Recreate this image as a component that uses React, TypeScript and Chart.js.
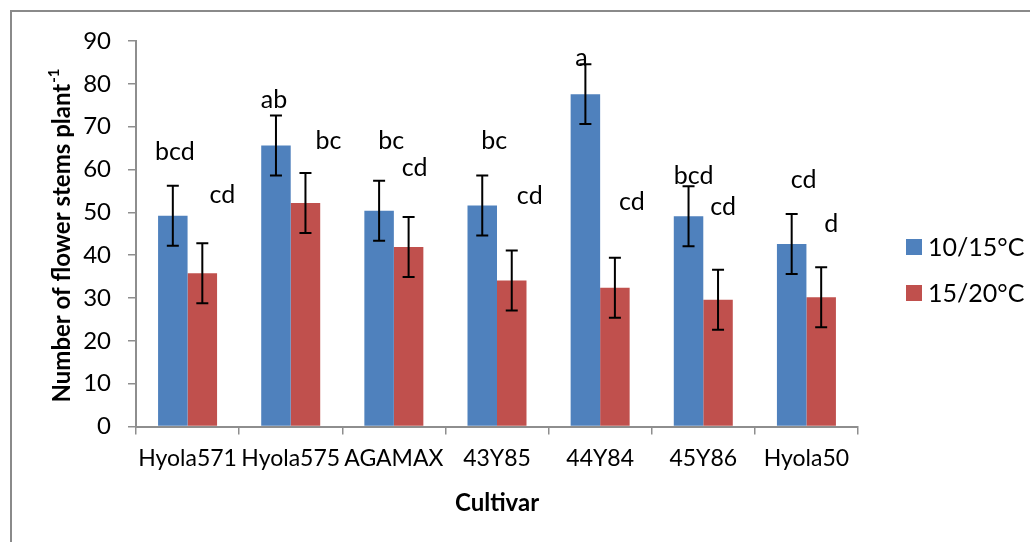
import { useEffect, useRef } from "react";
import { Chart, registerables } from "chart.js";

Chart.register(...registerables);

const categories = ["Hyola571", "Hyola575", "AGAMAX", "43Y85", "44Y84", "45Y86", "Hyola50"];
const seriesNames = ["10/15°C", "15/20°C"];
const values1015 = [49.2, 65.6, 50.4, 51.6, 77.6, 49.1, 42.6];
const values1520 = [35.8, 52.2, 41.9, 34.1, 32.4, 29.6, 30.2];
const errors1015 = [7, 7, 7, 7, 7, 7, 7];
const errors1520 = [7, 7, 7, 7, 7, 7, 7];
const letters1015 = ["bcd", "ab", "bc", "bc", "a", "bcd", "cd"];
const letters1520 = ["cd", "bc", "cd", "cd", "cd", "cd", "d"];
const yMin = 0;
const yMax = 90;
const yStep = 10;
const xTitle = "Cultivar";
const yTitleMain = "Number of flower stems plant";
const yTitleSup = "-1";

// placement of the significance letters (baseline in axis units, x shift in px from bar centre)
const letterBase1015 = [62.3, 74.3, 64.7, 64.7, 84.2, 56.7, 55.6];
const letterBase1520 = [52.2, 64.7, 58.5, 51.9, 50.5, 49.3, 45.4];
const letterDx1015 = [2, -2, 12, 12, -4, 5, 12];
const letterDx1520 = [20, 23, 6, 18, 17, 5, 10];

const FONT = "Lato, 'Open Sans', sans-serif";
const AXIS_GRAY = "#8e8e8e";

const overlayPlugin = {
  id: "overlay",
  beforeDraw(chart: any) {
    const ctx = chart.ctx;
    ctx.save();
    ctx.fillStyle = "#ffffff";
    ctx.fillRect(0, 0, chart.width, chart.height);
    ctx.strokeStyle = "#8a8a8a";
    ctx.lineWidth = 2;
    ctx.beginPath();
    ctx.moveTo(11, chart.height);
    ctx.lineTo(11, 11);
    ctx.lineTo(chart.width, 11);
    ctx.stroke();
    ctx.restore();
  },
  afterDatasetsDraw(chart: any) {
    const ctx = chart.ctx;
    const ys = chart.scales.y;
    ctx.save();
    chart.data.datasets.forEach((ds: any, di: number) => {
      const meta = chart.getDatasetMeta(di);
      meta.data.forEach((bar: any, i: number) => {
        const v = ds.data[i];
        const e = ds.errors[i];
        const x = bar.x;
        const yt = ys.getPixelForValue(v + e);
        const yb = ys.getPixelForValue(v - e);
        ctx.strokeStyle = "#000000";
        ctx.lineWidth = 2;
        ctx.beginPath();
        ctx.moveTo(x, yt);
        ctx.lineTo(x, yb);
        ctx.moveTo(x - 6, yt);
        ctx.lineTo(x + 6, yt);
        ctx.moveTo(x - 6, yb);
        ctx.lineTo(x + 6, yb);
        ctx.stroke();
        ctx.fillStyle = "#000000";
        ctx.font = `25px ${FONT}`;
        ctx.textAlign = "center";
        ctx.textBaseline = "alphabetic";
        ctx.fillText(ds.letters[i], x + ds.letterDx[i], ys.getPixelForValue(ds.letterBase[i]));
      });
    });

    // y-axis title with superscript
    ctx.translate(62, 236);
    ctx.rotate(-Math.PI / 2);
    ctx.fillStyle = "#000000";
    ctx.textBaseline = "middle";
    ctx.textAlign = "left";
    ctx.font = `bold 24px ${FONT}`;
    const w1 = ctx.measureText(yTitleMain).width;
    ctx.font = `bold 15px ${FONT}`;
    const w2 = ctx.measureText(yTitleSup).width;
    const start = -(w1 + w2) / 2;
    ctx.font = `bold 24px ${FONT}`;
    ctx.fillText(yTitleMain, start, 0);
    ctx.font = `bold 15px ${FONT}`;
    ctx.fillText(yTitleSup, start + w1 + 1, -8);
    ctx.restore();

    // legend
    ctx.save();
    const legendY = [247, 293];
    chart.data.datasets.forEach((ds: any, di: number) => {
      const cy = legendY[di];
      ctx.fillStyle = ds.backgroundColor;
      ctx.fillRect(906, cy - 8, 16, 16);
      ctx.fillStyle = "#000000";
      ctx.font = `25px ${FONT}`;
      ctx.textAlign = "left";
      ctx.textBaseline = "middle";
      ctx.fillText(ds.label, 928, cy + 1);
    });
    ctx.restore();
  },
};

export default function App() {
  const ref = useRef<HTMLCanvasElement | null>(null);

  useEffect(() => {
    if (!ref.current) return;
    const yTicks: number[] = [];
    for (let t = yMin; t <= yMax; t += yStep) yTicks.push(t);

    const chart = new Chart(ref.current, {
      type: "bar",
      data: {
        labels: categories,
        datasets: [
          {
            label: seriesNames[0],
            data: values1015,
            backgroundColor: "#4F81BD",
            errors: errors1015,
            letters: letters1015,
            letterBase: letterBase1015,
            letterDx: letterDx1015,
            categoryPercentage: 0.572,
            barPercentage: 1,
          } as any,
          {
            label: seriesNames[1],
            data: values1520,
            backgroundColor: "#C0504D",
            errors: errors1520,
            letters: letters1520,
            letterBase: letterBase1520,
            letterDx: letterDx1520,
            categoryPercentage: 0.572,
            barPercentage: 1,
          } as any,
        ],
      },
      options: {
        responsive: false,
        animation: false,
        devicePixelRatio: 1,
        layout: { padding: { left: 76, right: 172, top: 41, bottom: 24 } },
        plugins: {
          legend: { display: false },
          tooltip: { enabled: false },
        },
        scales: {
          x: {
            grid: {
              display: true,
              drawOnChartArea: false,
              drawTicks: true,
              tickLength: 8,
              color: AXIS_GRAY,
              lineWidth: 1.5,
              offset: true,
            },
            border: { color: AXIS_GRAY, width: 2 },
            ticks: {
              color: "#000000",
              font: { family: FONT, size: 23 },
              autoSkip: false,
              maxRotation: 0,
              padding: 10,
            },
            title: {
              display: true,
              text: xTitle,
              color: "#000000",
              font: { family: FONT, size: 24, weight: "bold" },
              padding: { top: 7, bottom: 0 },
            },
          },
          y: {
            min: yMin,
            max: yMax,
            afterFit: (s: any) => {
              s.width = 60;
            },
            afterBuildTicks: (s: any) => {
              s.ticks = yTicks.map((v) => ({ value: v }));
            },
            grid: {
              display: true,
              drawOnChartArea: false,
              drawTicks: true,
              tickLength: 8,
              color: AXIS_GRAY,
              lineWidth: 1.5,
            },
            border: { color: AXIS_GRAY, width: 2 },
            ticks: {
              color: "#000000",
              font: { family: FONT, size: 24 },
              padding: 17,
            },
          },
        },
      },
      plugins: [overlayPlugin],
    });
    return () => chart.destroy();
  }, []);

  return (
    <div style={{ position: "fixed", left: 0, top: 0, width: 1030, height: 542 }}>
      <canvas ref={ref} width={1030} height={542} style={{ width: 1030, height: 542, display: "block" }} />
    </div>
  );
}
